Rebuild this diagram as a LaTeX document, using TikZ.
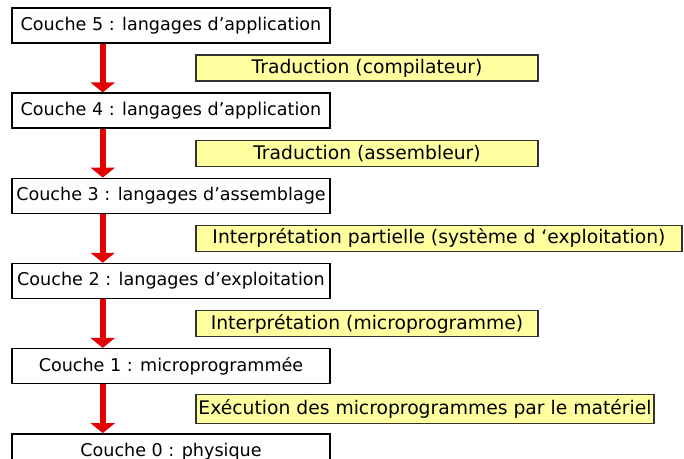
\documentclass[tikz,border=0pt]{standalone}
\usepackage{fontspec}
\setmainfont{DejaVu Sans}
\usetikzlibrary{arrows.meta, positioning, calc}
\definecolor{cYellow}{RGB}{255,255,160}
\definecolor{cArrow}{RGB}{226,0,0}
\tikzset{
	layer/.style   ={rectangle, draw=black, line width=0.045cm, fill=white, minimum width=9.54cm, minimum height=1.05cm, inner sep=0pt, align=center, font=\fontsize{15}{17}\selectfont},
	trans/.style   ={rectangle, draw=black!80, line width=0.045cm, fill=cYellow, minimum height=0.78cm, inner sep=0pt, anchor=west, font=\fontsize{16}{18}\selectfont},
	downarrow/.style={-{Triangle[width=0.72cm, length=0.3cm]}, line width=0.17cm, cArrow},
}

\begin{document}
\begin{tikzpicture}[node distance=1.46cm]
			\useasboundingbox (0,0) rectangle (20.52,-13.77);
			\clip (0,0) rectangle (20.52,-13.77);
			% layers
			\node[layer] (l5) at (5.13,-0.765) {Couche 5 : langages d’application};
			\node[layer, below=of l5] (l4) {Couche 4 : langages d’application};
			\node[layer, below=of l4] (l3) {Couche 3 : langages d’assemblage};
			\node[layer, below=of l3] (l2) {Couche 2 : langages d’exploitation};
			\node[layer, below=of l2] (l1) {Couche 1 : microprogrammée};
			\node[layer, below=of l1] (l0) {Couche 0 : physique};
			% translation between layers
			\node[trans, minimum width=10.26cm] (t5) at ($(l5.south west)!0.5!(l4.north west)+(5.52,0)$) {Traduction (compilateur)};
			\node[trans, minimum width=10.26cm] (t4) at ($(l4.south west)!0.5!(l3.north west)+(5.52,0)$) {Traduction (assembleur)};
			\node[trans, minimum width=14.58cm] (t3) at ($(l3.south west)!0.5!(l2.north west)+(5.52,0)$) {Interprétation partielle (système d ‘exploitation)};
			\node[trans, minimum width=10.26cm] (t2) at ($(l2.south west)!0.5!(l1.north west)+(5.52,0)$) {Interprétation (microprogramme)};
			\node[trans, minimum width=13.74cm, minimum height=0.87cm] (t1) at ($(l1.south west)!0.5!(l0.north west)+(5.52,0)$) {Exécution des microprogrammes par le matériel};
			\foreach \a/\b in {l5/l4, l4/l3, l3/l2, l2/l1, l1/l0}
				\draw[downarrow] ($(\a.south west)+(2.745,0)$) -- ($(\b.north west)+(2.745,0)$);
		\end{tikzpicture}
\end{document}
